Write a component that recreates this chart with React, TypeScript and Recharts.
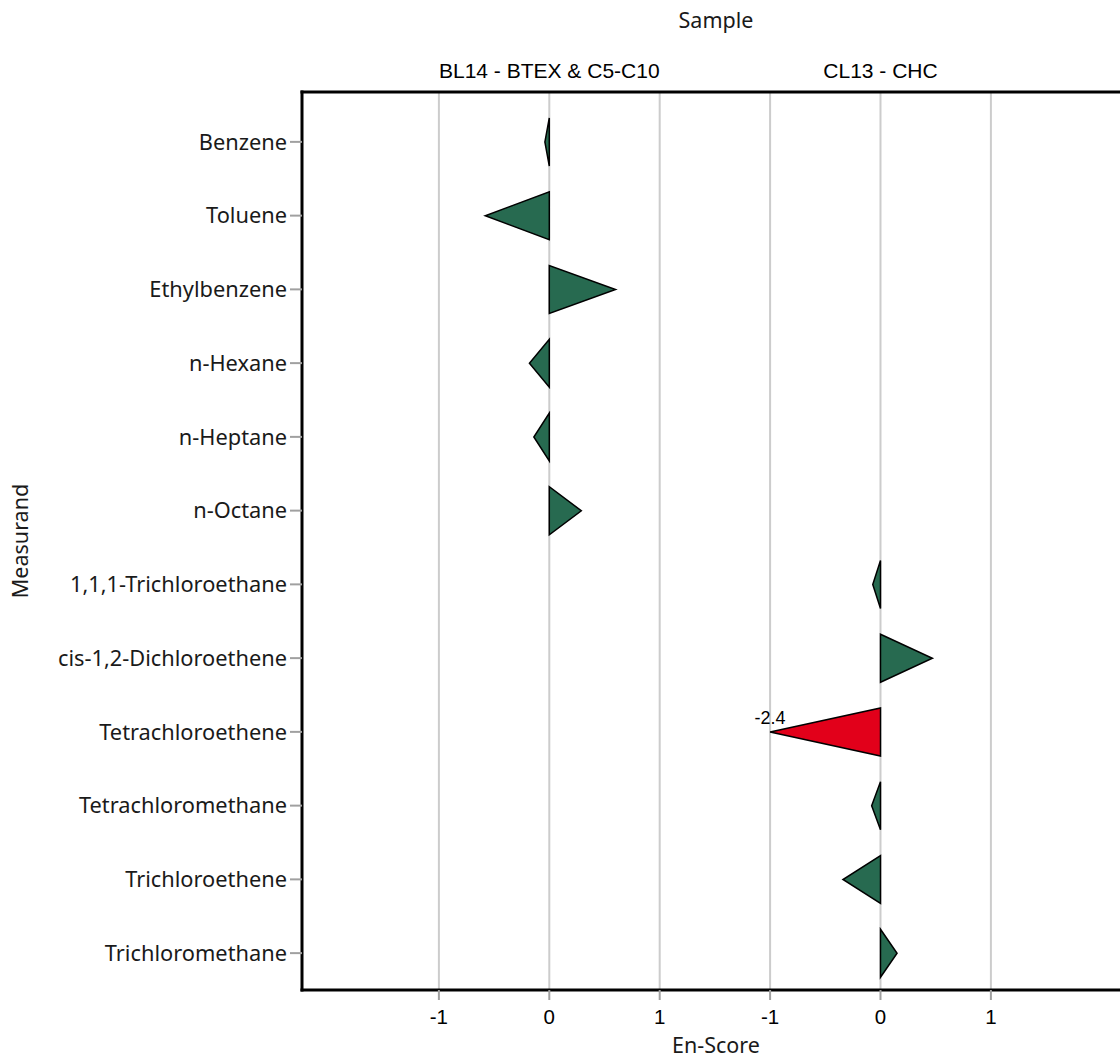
import React from 'react';
import { ComposedChart, Bar, XAxis, YAxis, CartesianGrid, Label } from 'recharts';

// ─── Data ─────────────────────────────────────────────────────────────────────

const samples = ['BL14 - BTEX & C5-C10', 'CL13 - CHC'];

const measurands = [
  'Benzene',
  'Toluene',
  'Ethylbenzene',
  'n-Hexane',
  'n-Heptane',
  'n-Octane',
  '1,1,1-Trichloroethane',
  'cis-1,2-Dichloroethene',
  'Tetrachloroethene',
  'Tetrachloromethane',
  'Trichloroethene',
  'Trichloromethane',
];

// index into `samples` for each measurand
const measurandSample = [0, 0, 0, 0, 0, 0, 1, 1, 1, 1, 1, 1];

const enScores = [-0.04, -0.58, 0.6, -0.18, -0.14, 0.29, -0.07, 0.47, -2.4, -0.08, -0.34, 0.15];

const scoreTicks = [-1, 0, 1];

// ─── Constants ────────────────────────────────────────────────────────────────

/** Distance between the zero lines of neighbouring sample panels, in score units. */
const FACET_SHIFT = 3;

/** Scores beyond this are drawn at the limit and labelled with the real value. */
const SCORE_LIMIT = 1;

const GREEN = '#276a50';
const RED = '#e2001a';
const GRID = '#cccccc';
const TICK_LINE = '#a0a0a0';
const TEXT = '#1a1a1a';
const SANS = '"Noto Sans", "Open Sans", sans-serif';
const ARIAL = '"Liberation Sans", Arial, sans-serif';

const rows = measurands.map((name, i) => ({
  name,
  sample: measurandSample[i],
  score: enScores[i],
}));

const shown = (s: number) => Math.max(-SCORE_LIMIT, Math.min(SCORE_LIMIT, s));
const span = (r: { sample: number; score: number }) => {
  const base = r.sample * FACET_SHIFT;
  return [base, base + shown(r.score)];
};

const xTicks = samples.flatMap((_, s) => scoreTicks.map((t) => t + s * FACET_SHIFT));
const facetTicks = samples.map((_, s) => s * FACET_SHIFT);

const scoreLabel = (v: number) => {
  const local = v - Math.round(v / FACET_SHIFT) * FACET_SHIFT;
  return String(Math.round(local) || 0);
};
const facetLabel = (v: number) => samples[Math.round(v / FACET_SHIFT)] ?? '';

// ─── Shapes ───────────────────────────────────────────────────────────────────

function Triangle(props: any) {
  const { x, y, width, height, payload } = props;
  if (x == null || y == null) return null;
  const lo = Math.min(x, x + width);
  const hi = Math.max(x, x + width);
  const neg = payload.score < 0;
  const baseX = neg ? hi : lo;
  const tipX = neg ? lo : hi;
  const mid = y + height / 2;
  const clipped = Math.abs(payload.score) > SCORE_LIMIT;
  return (
    <g>
      <polygon
        points={`${baseX},${y} ${baseX},${y + height} ${tipX},${mid}`}
        fill={clipped ? RED : GREEN}
        stroke="#000"
        strokeWidth={1.5}
        strokeLinejoin="miter"
      />
      {clipped && (
        <text
          x={tipX}
          y={mid - 8}
          textAnchor="middle"
          fontFamily={ARIAL}
          fontSize={18}
          fill="#000"
        >
          {payload.score}
        </text>
      )}
    </g>
  );
}

function FacetTick(props: any) {
  const { x, y, payload } = props;
  return (
    <text x={x} y={y} textAnchor="middle" fontFamily={ARIAL} fontSize={21} fill="#000">
      {facetLabel(payload.value)}
    </text>
  );
}

// ─── Component ────────────────────────────────────────────────────────────────

export default function App() {
  const frame = { stroke: '#000', strokeWidth: 3, strokeLinecap: 'square' as const };
  return (
    <div
      style={{
        position: 'absolute',
        left: 0,
        top: 0,
        width: 1120,
        height: 1061,
        overflow: 'hidden',
        background: '#fff',
      }}
    >
      <ComposedChart
        width={1130}
        height={1061}
        data={rows}
        layout="vertical"
        margin={{ top: 0, right: 0, bottom: 0, left: 0 }}
      >
        <CartesianGrid horizontal={false} stroke={GRID} strokeWidth={2} />
        <XAxis
          type="number"
          domain={[-2.24, 5.26]}
          allowDataOverflow
          ticks={xTicks}
          tickFormatter={scoreLabel}
          height={71}
          axisLine={frame}
          tickLine={{ stroke: TICK_LINE, strokeWidth: 2 }}
          tickSize={10}
          tickMargin={9}
          tick={{ fill: '#000', fontSize: 20.5, fontFamily: ARIAL }}
          interval={0}
        >
          <Label
            value="En-Score"
            position="insideBottom"
            offset={8}
            fill={TEXT}
            fontSize={21.5}
            fontFamily={SANS}
          />
        </XAxis>
        <XAxis
          xAxisId="top"
          orientation="top"
          type="number"
          domain={[-2.24, 5.26]}
          allowDataOverflow
          ticks={facetTicks}
          height={92}
          axisLine={frame}
          tickLine={false}
          tickSize={0}
          tickMargin={14}
          tick={<FacetTick />}
          interval={0}
        >
          <Label
            value="Sample"
            position="insideTop"
            offset={13}
            fill={TEXT}
            fontSize={21.5}
            fontFamily={SANS}
          />
        </XAxis>
        <YAxis
          type="category"
          dataKey="name"
          width={302}
          padding={{ top: 13, bottom: 0 }}
          axisLine={frame}
          tickLine={{ stroke: TICK_LINE, strokeWidth: 2 }}
          tickSize={12}
          tickMargin={3}
          tick={{ fill: TEXT, fontSize: 21.8, fontFamily: SANS }}
          interval={0}
        >
          <Label
            value="Measurand"
            position="insideLeft"
            angle={-90}
            offset={20}
            fill={TEXT}
            fontSize={21.5}
            fontFamily={SANS}
            style={{ textAnchor: 'middle' }}
          />
        </YAxis>
        <Bar dataKey={span} barSize={48} shape={Triangle} isAnimationActive={false} />
      </ComposedChart>
    </div>
  );
}
